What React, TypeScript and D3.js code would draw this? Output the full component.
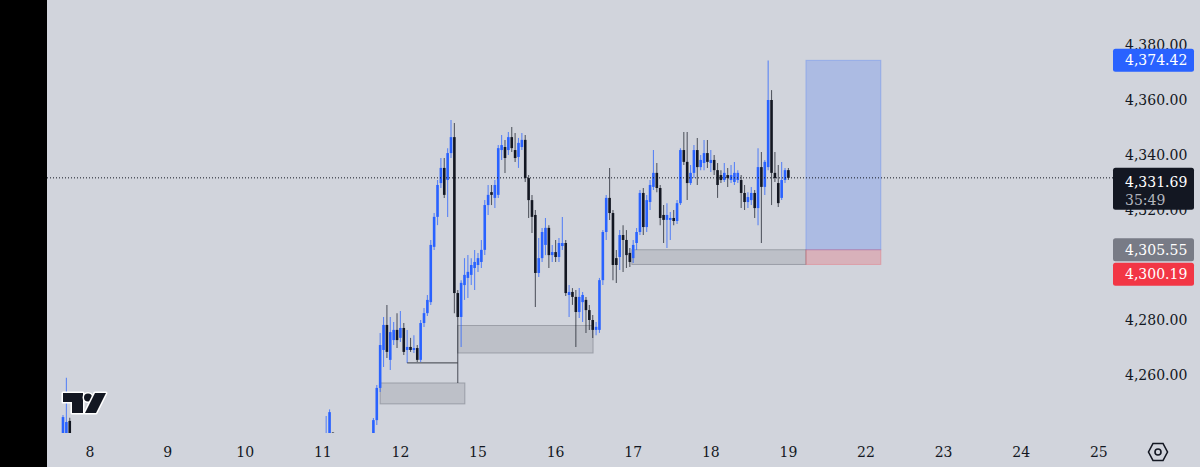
import React from "react";
import * as d3 from "d3";

// ---------- data ----------
const dayLabels = ["8", "9", "10", "11", "12", "15", "16", "17", "18", "19", "22", "23", "24", "25"];
const barsPerDay = 23;
const priceTicks = [4380, 4360, 4340, 4320, 4280, 4260];

// isolated hourly bars before the main run: [hour index, open, high, low, close]
const earlyBars: number[][] = [
  [-8, 4230.0, 4245.5, 4226.0, 4244.7],
  [-7, 4236.0, 4259.0, 4232.0, 4242.9],
  [-6, 4243.3, 4244.5, 4230.0, 4236.0],
  [70, 4232.0, 4245.1, 4228.0, 4236.0],
  [71, 4236.0, 4247.5, 4233.0, 4246.5],
  [72, 4239.0, 4239.3, 4228.0, 4232.0],
];

// main hourly run starting at hour index mainStart: [open, high, low, close]
const mainStart = 84;
const mainBars: number[][] = [
  [4234.5, 4244.4, 4230.9, 4243.6],
  [4243.6, 4256.4, 4241.8, 4255.3],
  [4255.3, 4275.3, 4253.8, 4270.9],
  [4269.1, 4281.1, 4262.9, 4278.2],
  [4278.2, 4285.5, 4266.2, 4268.4],
  [4265.5, 4281.1, 4261.8, 4275.6],
  [4272.7, 4279.3, 4270.9, 4276.4],
  [4276.4, 4282.5, 4269.8, 4272.7],
  [4273.5, 4283.3, 4272.0, 4277.1],
  [4277.1, 4278.9, 4267.3, 4268.4],
  [4269.1, 4276.4, 4264.4, 4270.2],
  [4270.2, 4273.5, 4268.4, 4269.1],
  [4269.1, 4274.5, 4268.0, 4269.8],
  [4269.8, 4270.9, 4264.7, 4265.5],
  [4265.5, 4280.0, 4264.7, 4278.9],
  [4278.9, 4284.4, 4277.5, 4282.5],
  [4282.5, 4289.1, 4281.5, 4287.3],
  [4286.5, 4309.1, 4285.5, 4307.3],
  [4306.6, 4318.9, 4305.5, 4317.5],
  [4317.5, 4330.9, 4314.5, 4329.1],
  [4329.8, 4338.9, 4328.0, 4335.3],
  [4335.3, 4338.9, 4324.4, 4325.5],
  [4330.9, 4342.5, 4317.5, 4340.7],
  [4340.7, 4352.7, 4338.9, 4346.5],
  [4346.5, 4351.6, 4282.5, 4289.8],
  [4289.8, 4290.9, 4257.1, 4281.1],
  [4281.1, 4294.5, 4270.2, 4293.5],
  [4292.7, 4302.5, 4287.3, 4296.4],
  [4295.3, 4303.6, 4288.0, 4297.5],
  [4296.4, 4302.5, 4292.7, 4300.0],
  [4298.9, 4305.5, 4290.9, 4301.1],
  [4300.0, 4304.4, 4297.5, 4302.5],
  [4301.1, 4309.1, 4298.9, 4305.5],
  [4305.5, 4323.6, 4303.6, 4321.8],
  [4321.8, 4329.1, 4318.2, 4325.5],
  [4326.5, 4329.1, 4321.8, 4325.5],
  [4324.4, 4330.9, 4320.7, 4329.1],
  [4325.5, 4343.6, 4324.4, 4342.5],
  [4341.8, 4347.3, 4338.2, 4343.6],
  [4342.9, 4345.5, 4333.5, 4338.9],
  [4341.8, 4348.4, 4340.0, 4346.5],
  [4346.5, 4350.2, 4341.1, 4342.5],
  [4341.8, 4348.0, 4337.5, 4338.9],
  [4339.3, 4346.2, 4335.3, 4344.4],
  [4342.9, 4348.0, 4341.8, 4345.5],
  [4345.5, 4347.3, 4330.2, 4331.6],
  [4331.6, 4332.7, 4317.1, 4323.6],
  [4323.6, 4325.5, 4311.6, 4317.5],
  [4318.2, 4320.0, 4284.7, 4297.1],
  [4297.1, 4309.8, 4295.6, 4302.5],
  [4302.5, 4313.5, 4301.1, 4312.0],
  [4307.3, 4317.1, 4303.6, 4313.5],
  [4313.5, 4314.5, 4298.9, 4303.6],
  [4303.6, 4307.3, 4301.1, 4304.7],
  [4304.7, 4309.1, 4301.1, 4302.9],
  [4302.9, 4309.8, 4301.1, 4308.0],
  [4306.9, 4317.5, 4305.5, 4308.0],
  [4308.0, 4309.1, 4288.7, 4289.8],
  [4289.1, 4292.7, 4281.1, 4290.2],
  [4290.2, 4291.6, 4285.5, 4288.4],
  [4288.4, 4290.9, 4270.2, 4282.9],
  [4282.9, 4291.6, 4280.7, 4288.4],
  [4286.5, 4290.2, 4279.3, 4289.1],
  [4287.3, 4288.4, 4275.3, 4283.6],
  [4283.6, 4285.5, 4276.4, 4280.0],
  [4280.0, 4281.8, 4273.5, 4276.4],
  [4276.4, 4279.3, 4274.5, 4277.5],
  [4276.4, 4295.3, 4275.3, 4294.5],
  [4294.5, 4312.7, 4292.7, 4312.0],
  [4312.0, 4325.5, 4309.1, 4324.4],
  [4324.4, 4335.3, 4316.4, 4318.9],
  [4318.9, 4320.0, 4294.5, 4300.0],
  [4302.5, 4305.5, 4293.5, 4300.0],
  [4302.9, 4312.7, 4298.2, 4310.9],
  [4310.9, 4314.5, 4297.5, 4309.1],
  [4309.1, 4312.7, 4298.9, 4303.6],
  [4304.4, 4306.2, 4299.3, 4301.1],
  [4302.5, 4309.1, 4300.7, 4307.3],
  [4308.0, 4313.5, 4305.5, 4312.0],
  [4312.0, 4327.3, 4310.9, 4326.2],
  [4326.2, 4328.0, 4310.9, 4313.8],
  [4313.8, 4325.5, 4312.0, 4323.6],
  [4322.9, 4330.9, 4320.0, 4329.1],
  [4328.4, 4341.8, 4327.3, 4333.5],
  [4333.5, 4337.1, 4326.5, 4328.0],
  [4328.0, 4329.1, 4314.5, 4317.1],
  [4318.2, 4321.8, 4308.0, 4316.4],
  [4316.4, 4322.5, 4306.2, 4318.2],
  [4316.4, 4319.3, 4309.1, 4317.1],
  [4317.1, 4320.0, 4314.5, 4316.0],
  [4316.0, 4323.6, 4314.9, 4322.5],
  [4322.5, 4342.5, 4321.8, 4341.8],
  [4341.8, 4348.4, 4336.4, 4337.5],
  [4337.5, 4348.4, 4323.6, 4329.8],
  [4329.8, 4336.4, 4329.1, 4333.5],
  [4333.5, 4343.6, 4331.6, 4341.8],
  [4341.8, 4346.2, 4329.1, 4335.6],
  [4335.6, 4340.0, 4334.5, 4338.2],
  [4337.1, 4345.5, 4334.5, 4340.7],
  [4340.7, 4345.5, 4335.3, 4337.5],
  [4337.1, 4341.8, 4333.8, 4338.2],
  [4338.2, 4340.0, 4332.7, 4334.5],
  [4334.5, 4337.1, 4324.4, 4329.1],
  [4332.7, 4334.5, 4329.8, 4330.9],
  [4330.9, 4337.1, 4330.2, 4333.5],
  [4332.7, 4335.3, 4328.4, 4331.6],
  [4330.9, 4336.4, 4329.8, 4332.7],
  [4330.2, 4337.5, 4329.1, 4333.5],
  [4330.9, 4334.5, 4329.8, 4333.5],
  [4330.9, 4332.7, 4320.7, 4326.2],
  [4326.2, 4329.1, 4320.0, 4322.9],
  [4322.9, 4326.5, 4320.7, 4324.7],
  [4323.6, 4328.4, 4321.8, 4326.2],
  [4326.2, 4327.3, 4317.1, 4320.7],
  [4320.7, 4342.5, 4314.5, 4335.6],
  [4335.6, 4341.1, 4308.0, 4328.4],
  [4328.4, 4338.2, 4325.5, 4337.5],
  [4335.6, 4374.4, 4334.5, 4360.0],
  [4360.0, 4363.6, 4321.8, 4333.5],
  [4333.5, 4341.1, 4330.2, 4331.6],
  [4329.8, 4336.4, 4321.1, 4322.5],
  [4324.4, 4337.5, 4323.6, 4330.9],
  [4330.9, 4335.3, 4329.8, 4334.5],
  [4334.5, 4335.3, 4330.9, 4331.69],
];

const lastPrice = 4331.69;
const countdown = "35:49";
const takeProfit = 4374.42;
const entryPrice = 4305.55;
const stopPrice = 4300.19;

// order-block zones (hour index start/end, price top/bottom)
const zoneStart = [86, 109, 160.6];
const zoneEnd = [111.1, 149.1, 212.2];
const zoneTop = [4257.1, 4278.0, entryPrice];
const zoneBottom = [4249.5, 4268.0, stopPrice];

// long-position tool range (hour index)
const positionStart = 212.2;
const positionEnd = 234.4;

// liquidity line
const sweepStart = 94;
const sweepEnd = 109;
const sweepPrice = 4264.4;

// ---------- component ----------
const W = 1200;
const H = 467;
const plotLeft = 47;
const plotRight = 1110;
const plotBottom = 433;

const UP = "#2962ff";
const DOWN = "#131722";
const FONT = "'DejaVu Serif', serif";

const fmt = d3.format(",.2f");

export default function App() {
  const x = d3
    .scaleLinear()
    .domain([0, (dayLabels.length - 1) * barsPerDay])
    .range([90, 90 + (dayLabels.length - 1) * 77.6]);
  const y = d3.scaleLinear().domain([4260, 4380]).range([375, 45]);

  const bars = [
    ...earlyBars.map((b) => ({ t: b[0], o: b[1], h: b[2], l: b[3], c: b[4] })),
    ...mainBars.map((b, i) => ({ t: mainStart + i, o: b[0], h: b[1], l: b[2], c: b[3] })),
  ];
  const bodyW = 2.6;

  // stacked price labels: TradingView pushes an overlapping label below its neighbour
  const boxH = 23;
  const tpY = y(takeProfit);
  const entryY = y(entryPrice);
  const stopY = Math.max(y(stopPrice), entryY + boxH + 1.5);

  const labelBox = (price: number, cy: number, fill: string, key: string) => (
    <g key={key}>
      <rect x={1113} y={cy - boxH / 2} width={81} height={boxH} rx={2.5} fill={fill} />
      <text x={1125} y={cy} dominantBaseline="central" fill="#ffffff" fontSize={14} fontFamily={FONT}>
        {fmt(price)}
      </text>
    </g>
  );

  const lastY = y(lastPrice);

  return (
    <div style={{ position: "fixed", left: 0, top: 0, width: W, height: H }}>
      <svg width={W} height={H} style={{ display: "block" }}>
        <defs>
          <clipPath id="plotClip">
            <rect x={plotLeft} y={0} width={plotRight - plotLeft} height={plotBottom} />
          </clipPath>
        </defs>
        <rect x={0} y={0} width={W} height={H} fill="#d1d4dc" />
        <rect x={0} y={0} width={plotLeft} height={H} fill="#000000" />

        <g clipPath="url(#plotClip)">
          {/* order-block zones */}
          {zoneStart.map((s, i) => (
            <rect
              key={"z" + i}
              x={x(s)}
              y={y(zoneTop[i])}
              width={x(zoneEnd[i]) - x(s)}
              height={y(zoneBottom[i]) - y(zoneTop[i])}
              fill="rgba(120,123,134,0.22)"
              stroke="rgba(120,123,134,0.55)"
              strokeWidth={1}
            />
          ))}
          {/* long position tool */}
          <rect
            x={x(positionStart)}
            y={y(takeProfit)}
            width={x(positionEnd) - x(positionStart)}
            height={y(entryPrice) - y(takeProfit)}
            fill="rgba(41,98,255,0.22)"
            stroke="rgba(41,98,255,0.25)"
            strokeWidth={1}
          />
          <rect
            x={x(positionStart)}
            y={y(entryPrice)}
            width={x(positionEnd) - x(positionStart)}
            height={y(stopPrice) - y(entryPrice)}
            fill="rgba(242,54,69,0.22)"
            stroke="rgba(242,54,69,0.25)"
            strokeWidth={1}
          />

          {/* candles */}
          {bars.map((b, i) => {
            const up = b.c >= b.o;
            const cx = x(b.t);
            const top = y(Math.max(b.o, b.c));
            const bot = y(Math.min(b.o, b.c));
            return (
              <g key={"b" + i}>
                <line
                  x1={cx}
                  x2={cx}
                  y1={y(b.h)}
                  y2={y(b.l)}
                  stroke={up ? "rgba(41,98,255,0.7)" : "rgba(19,23,34,0.65)"}
                  strokeWidth={1.1}
                />
                <rect
                  x={cx - bodyW / 2}
                  y={top}
                  width={bodyW}
                  height={Math.max(1, bot - top)}
                  fill={up ? UP : DOWN}
                />
              </g>
            );
          })}

          {/* liquidity sweep line */}
          <line
            x1={x(sweepStart)}
            x2={x(sweepEnd)}
            y1={y(sweepPrice)}
            y2={y(sweepPrice)}
            stroke="#3a3d45"
            strokeWidth={1}
          />
        </g>

        {/* last price dotted line */}
        <line
          x1={plotLeft}
          x2={1113}
          y1={lastY}
          y2={lastY}
          stroke="#131722"
          strokeWidth={1}
          strokeDasharray="1,2"
        />

        {/* TradingView logo */}
        <g stroke="#ffffff" strokeWidth={3} strokeLinejoin="round" fill="#131722" paintOrder="stroke">
          <path d="M63,393 H83 V413 H72 V402 H63 Z" />
          <circle cx={88} cy={397.5} r={4} />
          <path d="M95,393 H106 L96,413 H85 Z" />
        </g>

        {/* price axis */}
        {priceTicks.map((p) => (
          <text
            key={"p" + p}
            x={1125}
            y={y(p)}
            dominantBaseline="central"
            fill="#131722"
            fontSize={14}
            fontFamily={FONT}
          >
            {fmt(p)}
          </text>
        ))}
        {labelBox(takeProfit, tpY, "#2962ff", "tp")}
        {labelBox(entryPrice, entryY, "#787b86", "en")}
        {labelBox(stopPrice, stopY, "#f23645", "sl")}
        <g>
          <rect x={1113} y={lastY - 10} width={81} height={42} rx={2.5} fill="#131722" />
          <text x={1125} y={lastY + 4.5} dominantBaseline="central" fill="#ffffff" fontSize={14} fontFamily={FONT}>
            {fmt(lastPrice)}
          </text>
          <text x={1125} y={lastY + 22} dominantBaseline="central" fill="#b2b5be" fontSize={14} fontFamily={FONT}>
            {countdown}
          </text>
        </g>

        {/* time axis */}
        {dayLabels.map((d, i) => (
          <text
            key={"d" + d}
            x={x(i * barsPerDay)}
            y={452}
            textAnchor="middle"
            dominantBaseline="central"
            fill="#131722"
            fontSize={14}
            fontFamily={FONT}
          >
            {d}
          </text>
        ))}

        {/* settings icon */}
        <g fill="none" stroke="#131722" strokeWidth={1.6}>
          <path d="M1153,443.5 H1163 L1167.5,452 L1163,460.5 H1153 L1148.5,452 Z" />
          <circle cx={1158} cy={452} r={3} />
        </g>
      </svg>
    </div>
  );
}
